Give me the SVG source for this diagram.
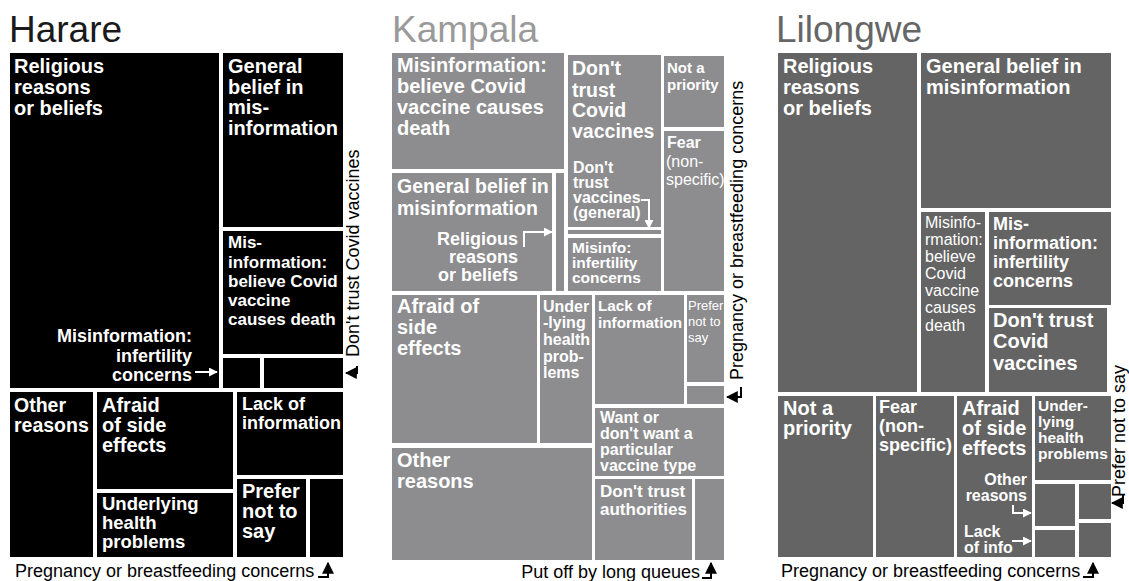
<svg xmlns="http://www.w3.org/2000/svg" width="1129" height="581" viewBox="0 0 1129 581">
<defs>
<style>
text{font-family:"Liberation Sans",Arial,Helvetica,sans-serif}
.lb{font-weight:bold;fill:#fff}
.rg{font-weight:normal}
.cap{font-size:18px;fill:#000}
.ttl{font-size:37px}
.h{fill:#000}
.k{fill:#8d8d8f}
.l{fill:#646464}
.cw{fill:none;stroke:#fff;stroke-width:2}
.cb{fill:none;stroke:#000;stroke-width:2}
</style>
<marker id="aw" viewBox="0 0 10 10" refX="9" refY="5" markerWidth="9" markerHeight="9" markerUnits="userSpaceOnUse" orient="auto"><path d="M0,0 L10,5 L0,10 z" fill="#fff"/></marker>
<marker id="ab" viewBox="0 0 10 10" refX="9" refY="5" markerWidth="12" markerHeight="12" markerUnits="userSpaceOnUse" orient="auto"><path d="M0,0 L10,5 L0,10 z" fill="#000"/></marker>
</defs>
<rect width="1129" height="581" fill="#fff"/>

<text class="ttl" x="9" y="42" fill="#1a1a1a">Harare</text>
<text class="ttl" x="392" y="42" fill="#9a9a9a">Kampala</text>
<text class="ttl" x="776" y="42" fill="#666">Lilongwe</text>

<!-- Harare -->
<g id="h-religious"><rect class="h" x="10" y="53" width="209" height="335"/>
<text class="lb" font-size="20"><tspan x="14" y="73">Religious</tspan><tspan x="14" y="94">reasons</tspan><tspan x="14" y="115">or beliefs</tspan></text></g>
<g id="h-general"><rect class="h" x="223" y="53" width="120" height="174"/>
<text class="lb" font-size="20"><tspan x="228" y="73">General</tspan><tspan x="228" y="94">belief in</tspan><tspan x="228" y="114">mis-</tspan><tspan x="228" y="135">information</tspan></text></g>
<g id="h-misinfo-death"><rect class="h" x="223" y="231" width="120" height="123"/>
<text class="lb" font-size="17"><tspan x="228" y="248">Mis-</tspan><tspan x="228" y="268">information:</tspan><tspan x="228" y="287">believe Covid</tspan><tspan x="228" y="306">vaccine</tspan><tspan x="228" y="325">causes death</tspan></text></g>
<g id="h-misinfo-infert"><rect class="h" x="223" y="358" width="37" height="30"/>
<text class="lb" font-size="18" text-anchor="end"><tspan x="192" y="342">Misinformation:</tspan><tspan x="192" y="362">infertility</tspan><tspan x="192" y="381">concerns</tspan></text></g>
<g id="h-donttrust"><rect class="h" x="264" y="358" width="79" height="30"/>
<text class="cap" transform="translate(359,357) rotate(-90)">Don't trust Covid vaccines</text></g>
<g id="h-other"><rect class="h" x="10" y="392" width="83" height="165"/>
<text class="lb" font-size="19.5"><tspan x="14" y="412">Other</tspan><tspan x="14" y="432">reasons</tspan></text></g>
<g id="h-afraid"><rect class="h" x="97" y="392" width="136" height="97"/>
<text class="lb" font-size="20"><tspan x="102" y="412">Afraid</tspan><tspan x="102" y="432">of side</tspan><tspan x="102" y="452">effects</tspan></text></g>
<g id="h-underlying"><rect class="h" x="97" y="493" width="136" height="64"/>
<text class="lb" font-size="18.5"><tspan x="102" y="510">Underlying</tspan><tspan x="102" y="529">health</tspan><tspan x="102" y="548">problems</tspan></text></g>
<g id="h-lack"><rect class="h" x="237" y="392" width="106" height="83"/>
<text class="lb" font-size="18"><tspan x="242" y="410">Lack of</tspan><tspan x="242" y="429">information</tspan></text></g>
<g id="h-prefer"><rect class="h" x="237" y="479" width="69" height="78"/>
<text class="lb" font-size="20"><tspan x="242" y="498">Prefer</tspan><tspan x="242" y="518">not to</tspan><tspan x="242" y="538">say</tspan></text></g>
<g id="h-pregnancy"><rect class="h" x="310" y="479" width="33" height="78"/>
<text class="cap" x="15" y="577">Pregnancy or breastfeeding concerns</text></g>

<!-- Kampala -->
<g id="k-misinfo-death"><rect class="k" x="392" y="53" width="172" height="116"/>
<text class="lb" font-size="20"><tspan x="397" y="72">Misinformation:</tspan><tspan x="397" y="93">believe Covid</tspan><tspan x="397" y="114">vaccine causes</tspan><tspan x="397" y="135">death</tspan></text></g>
<g id="k-donttrust-covid"><rect class="k" x="568" y="55" width="93" height="172"/>
<text class="lb" font-size="19.5"><tspan x="572" y="75">Don't</tspan><tspan x="572" y="97">trust</tspan><tspan x="572" y="117">Covid</tspan><tspan x="572" y="138">vaccines</tspan></text></g>
<g id="k-donttrust-general"><rect class="k" x="568" y="230" width="93" height="4"/>
<text class="lb" font-size="16"><tspan x="573" y="173">Don't</tspan><tspan x="573" y="188">trust</tspan><tspan x="573" y="203">vaccines</tspan><tspan x="573" y="218">(general)</tspan></text></g>
<g id="k-misinfo-infert"><rect class="k" x="568" y="238" width="93" height="53"/>
<text class="lb" font-size="15.5"><tspan x="572" y="253">Misinfo:</tspan><tspan x="572" y="268">infertility</tspan><tspan x="572" y="283">concerns</tspan></text></g>
<g id="k-notpriority"><rect class="k" x="664" y="56" width="60" height="71"/>
<text class="lb" font-size="15"><tspan x="667" y="73">Not a</tspan><tspan x="667" y="90">priority</tspan></text></g>
<g id="k-fear"><rect class="k" x="664" y="131" width="60" height="160"/>
<text class="lb" font-size="16"><tspan x="667" y="148">Fear</tspan><tspan class="rg" x="666" y="167">(non-</tspan><tspan class="rg" x="666" y="185">specific)</tspan></text></g>
<g id="k-general"><rect class="k" x="392" y="173" width="160" height="118"/>
<text class="lb" font-size="19.5"><tspan x="397" y="193">General belief in</tspan><tspan x="397" y="215">misinformation</tspan></text></g>
<g id="k-religious"><rect class="k" x="556" y="173" width="8" height="118"/>
<text class="lb" font-size="18" text-anchor="end"><tspan x="518" y="245">Religious</tspan><tspan x="518" y="263">reasons</tspan><tspan x="518" y="281">or beliefs</tspan></text></g>
<g id="k-afraid"><rect class="k" x="392" y="295" width="145" height="148"/>
<text class="lb" font-size="20"><tspan x="397" y="313">Afraid of</tspan><tspan x="397" y="334">side</tspan><tspan x="397" y="355">effects</tspan></text></g>
<g id="k-underlying"><rect class="k" x="540" y="295" width="52" height="148"/>
<text class="lb" font-size="16"><tspan x="543" y="312">Under</tspan><tspan x="543" y="328">-lying</tspan><tspan x="543" y="345">health</tspan><tspan x="543" y="362">prob-</tspan><tspan x="543" y="378">lems</tspan></text></g>
<g id="k-lack"><rect class="k" x="595" y="295" width="89" height="109"/>
<text class="lb" font-size="15.3"><tspan x="598" y="311">Lack of</tspan><tspan x="598" y="328">information</tspan></text></g>
<g id="k-prefer"><rect class="k" x="687" y="295" width="37" height="87"/>
<text class="lb rg" font-size="13"><tspan x="688" y="310">Prefer</tspan><tspan x="688" y="326">not to</tspan><tspan x="688" y="342">say</tspan></text></g>
<g id="k-pregnancy"><rect class="k" x="687" y="386" width="37" height="18"/>
<text class="cap" transform="translate(743,380) rotate(-90)">Pregnancy or breastfeeding concerns</text></g>
<g id="k-want"><rect class="k" x="595" y="408" width="129" height="68"/>
<text class="lb" font-size="16"><tspan x="600" y="423">Want or</tspan><tspan x="600" y="439">don't want a</tspan><tspan x="600" y="455">particular</tspan><tspan x="600" y="471">vaccine type</tspan></text></g>
<g id="k-other"><rect class="k" x="392" y="448" width="200" height="112"/>
<text class="lb" font-size="20"><tspan x="397" y="467">Other</tspan><tspan x="397" y="488">reasons</tspan></text></g>
<g id="k-authorities"><rect class="k" x="595" y="479" width="97" height="81"/>
<text class="lb" font-size="17"><tspan x="600" y="497">Don't trust</tspan><tspan x="600" y="515">authorities</tspan></text></g>
<g id="k-queues"><rect class="k" x="695" y="479" width="29" height="81"/>
<text class="cap" x="700" y="578" text-anchor="end">Put off by long queues</text></g>

<!-- Lilongwe -->
<g id="l-religious"><rect class="l" x="778" y="53" width="139" height="339"/>
<text class="lb" font-size="20"><tspan x="783" y="73">Religious</tspan><tspan x="783" y="94">reasons</tspan><tspan x="783" y="115">or beliefs</tspan></text></g>
<g id="l-general"><rect class="l" x="921" y="53" width="190" height="155"/>
<text class="lb" font-size="20"><tspan x="926" y="73">General belief in</tspan><tspan x="926" y="94">misinformation</tspan></text></g>
<g id="l-misinfo-death"><rect class="l" x="921" y="212" width="64" height="180"/>
<text class="lb rg" font-size="16"><tspan x="925" y="228">Misinfo-</tspan><tspan x="925" y="245">rmation:</tspan><tspan x="925" y="262">believe</tspan><tspan x="925" y="279">Covid</tspan><tspan x="925" y="296">vaccine</tspan><tspan x="925" y="313">causes</tspan><tspan x="925" y="331">death</tspan></text></g>
<g id="l-misinfo-infert"><rect class="l" x="989" y="212" width="122" height="93"/>
<text class="lb" font-size="18"><tspan x="993" y="230">Mis-</tspan><tspan x="993" y="249">information:</tspan><tspan x="993" y="268">infertility</tspan><tspan x="993" y="287">concerns</tspan></text></g>
<g id="l-donttrust"><rect class="l" x="989" y="308" width="118" height="84"/>
<text class="lb" font-size="20"><tspan x="993" y="327">Don't trust</tspan><tspan x="993" y="348">Covid</tspan><tspan x="993" y="370">vaccines</tspan></text></g>
<g id="l-notpriority"><rect class="l" x="778" y="396" width="95" height="161"/>
<text class="lb" font-size="20"><tspan x="783" y="415">Not a</tspan><tspan x="783" y="435">priority</tspan></text></g>
<g id="l-fear"><rect class="l" x="876" y="396" width="78" height="161"/>
<text class="lb" font-size="18"><tspan x="879" y="413">Fear</tspan><tspan x="879" y="432">(non-</tspan><tspan x="879" y="451">specific)</tspan></text></g>
<g id="l-afraid"><rect class="l" x="957" y="396" width="75" height="161"/>
<text class="lb" font-size="20"><tspan x="962" y="415">Afraid</tspan><tspan x="962" y="435">of side</tspan><tspan x="962" y="455">effects</tspan></text></g>
<g id="l-underlying"><rect class="l" x="1035" y="396" width="76" height="84"/>
<text class="lb" font-size="15.5"><tspan x="1038" y="411">Under-</tspan><tspan x="1038" y="427">lying</tspan><tspan x="1038" y="443">health</tspan><tspan x="1038" y="459">problems</tspan></text></g>
<g id="l-other"><rect class="l" x="1035" y="484" width="40" height="42"/>
<text class="lb" font-size="16" text-anchor="end"><tspan x="1027" y="485">Other</tspan><tspan x="1027" y="501">reasons</tspan></text></g>
<g id="l-prefer"><rect class="l" x="1079" y="484" width="32" height="35"/>
<text class="cap" transform="translate(1125,497) rotate(-90)">Prefer not to say</text></g>
<g id="l-lack"><rect class="l" x="1035" y="530" width="40" height="27"/>
<text class="lb" font-size="16"><tspan x="964" y="537">Lack</tspan><tspan x="964" y="553">of info</tspan></text></g>
<g id="l-pregnancy"><rect class="l" x="1079" y="523" width="32" height="34"/>
<text class="cap" x="781" y="577">Pregnancy or breastfeeding concerns</text></g>

<!-- connectors -->
<g id="connectors">
<path class="cw" d="M195 372 H217" marker-end="url(#aw)"/>
<path class="cb" d="M357 366 V373 H346" marker-end="url(#ab)"/>
<path class="cb" d="M318 577 H328 V563" marker-end="url(#ab)"/>
<path class="cw" d="M641 200 H649 V228" marker-end="url(#aw)"/>
<path class="cw" d="M524 247 V232 H552" marker-end="url(#aw)"/>
<path class="cb" d="M741 387 V397 H727" marker-end="url(#ab)"/>
<path class="cb" d="M702 578 H711 V563" marker-end="url(#ab)"/>
<path class="cw" d="M1013 505 V513 H1031" marker-end="url(#aw)"/>
<path class="cw" d="M1012 541 H1031" marker-end="url(#aw)"/>
<path class="cb" d="M1123 494 V503 H1112" marker-end="url(#ab)"/>
<path class="cb" d="M1083 577 H1093 V563" marker-end="url(#ab)"/>
</g>
</svg>
